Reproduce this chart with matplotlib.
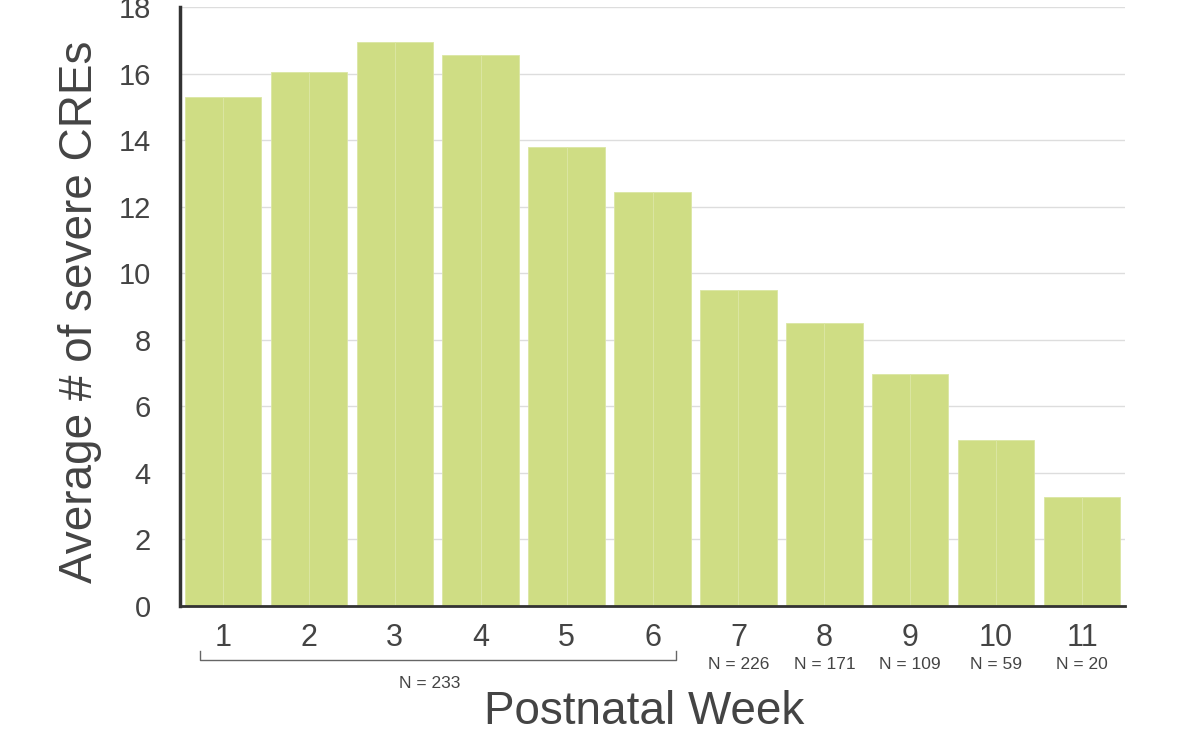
import numpy as np
import matplotlib.pyplot as plt

weeks = [1, 2, 3, 4, 5, 6, 7, 8, 9, 10, 11]
avg_severe = [15.3, 16.05, 16.95, 16.55, 13.8, 12.45, 9.5, 8.5, 6.98, 4.98, 3.28]
n_labels = ["", "", "", "", "", "", "N = 226", "N = 171", "N = 109", "N = 59", "N = 20"]
group_label = "N = 233"

BAR = "#cfdd84"
TXT = "#444444"


def main():
    plt.rcParams["font.family"] = ["Liberation Sans", "DejaVu Sans"]
    fig = plt.figure(figsize=(11.81, 7.34), dpi=100)
    ax = fig.add_axes([0.1524, 0.1744, 0.8002, 0.816])

    x = np.array(weeks, dtype=float)
    w = 0.89
    # each bar is drawn as two halves, leaving a faint seam in the middle
    ax.bar(x - w / 4, avg_severe, width=w / 2, color=BAR, edgecolor="#dbe6a4",
           linewidth=0.6, zorder=2)
    ax.bar(x + w / 4, avg_severe, width=w / 2, color=BAR, edgecolor="#dbe6a4",
           linewidth=0.6, zorder=2)

    ax.set_xlim(0.5, 11.5)
    ax.set_ylim(0, 18)
    ax.set_yticks(range(0, 19, 2))
    ax.yaxis.grid(True, color="#dddddd", linewidth=1, zorder=0)
    ax.set_axisbelow(True)

    for s in ["top", "right"]:
        ax.spines[s].set_visible(False)
    ax.spines["left"].set_color("#333333")
    ax.spines["left"].set_linewidth(2.5)
    ax.spines["bottom"].set_color("#333333")
    ax.spines["bottom"].set_linewidth(2)

    ax.set_xticks(x)
    ax.set_xticklabels([str(v) for v in weeks])
    ax.tick_params(axis="x", length=0, labelsize=22, labelcolor=TXT, pad=12)
    ax.tick_params(axis="y", length=0, labelsize=21, labelcolor=TXT, pad=21)

    fig.text(80 / 1181, 1 - 312 / 734, "Average # of severe CREs", rotation=90,
             ha="center", va="center", fontsize=33, color=TXT)

    # N counts under single weeks
    for xi, lab in zip(x, n_labels):
        if lab:
            ax.annotate(lab, (xi, 0), xycoords=("data", "axes fraction"),
                        xytext=(0, -42), textcoords="offset points",
                        ha="center", va="center", fontsize=12.5, color=TXT)

    # bracket under weeks 1-6
    trans = ax.get_xaxis_transform()
    x0, x1 = 0.73, 6.27
    y_low = -0.091
    y_up = -0.075
    ax.plot([x0, x0, x1, x1], [y_up, y_low, y_low, y_up], transform=trans,
            color="#666666", linewidth=1, clip_on=False)
    ax.text(3.41, -0.13, group_label, transform=trans,
            ha="center", va="center", fontsize=12.5, color=TXT)

    fig.text(644 / 1181, 1 - 712 / 734, "Postnatal Week", ha="center", va="center",
             fontsize=33, color=TXT)

    plt.savefig("out.png", dpi=100)


if __name__ == "__main__":
    main()
